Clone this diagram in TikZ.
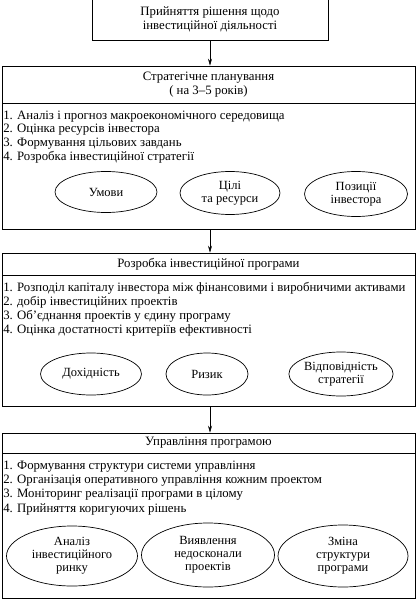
\documentclass[tikz,border=0pt]{standalone}
\usepackage{fontspec}
\setmainfont{Liberation Serif}
\usepackage{tikz}
\usetikzlibrary{arrows.meta,shapes.geometric}

\begin{document}
\begin{tikzpicture}[x=1pt, y=-1pt, line width=0.6pt,
	font=\fontsize{12.8}{13.7}\selectfont,
	panel/.style={draw, rectangle, inner sep=0pt, minimum width=413pt},
	oval/.style={draw, ellipse, inner sep=0pt, align=center, line width=0.7pt,
		font=\fontsize{12.5}{13}\selectfont},
	items/.style={anchor=north west, align=left, inner sep=0pt},
	flow/.style={-{Stealth[length=7pt, width=4pt]}}]
	\useasboundingbox (0,0) rectangle (417,604);

	% Decision on top
	\node [draw, rectangle, align=center, minimum width=236pt, minimum height=41pt] (decision) at (210,19.5) {Прийняття рішення щодо\\інвестиційної діяльності};

	% Strategic planning
	\node [panel, minimum height=37pt, align=center] (planhead) at (208.5,84.5) {Стратегічне планування\\( на 3–5 років)};
	\node [panel, minimum height=126pt] (planbody) at (208.5,166) {};
	\node [items] (planlist) at (3,110.5) {1. Аналіз і прогноз макроекономічного середовища\\2. Оцінка ресурсів інвестора\\3. Формування цільових завдань\\4. Розробка інвестиційної стратегії};
	\node [oval, minimum width=102pt, minimum height=41pt] (conditions) at (106,192) {Умови};
	\node [oval, minimum width=100pt, minimum height=43pt] (goals) at (230,193) {Цілі\\та ресурси};
	\node [oval, minimum width=103pt, minimum height=45pt] (positions) at (356,194) {Позиції\\інвестора};

	% Investment programme
	\node [panel, minimum height=22pt] (proghead) at (208.5,264) {Розробка інвестиційної програми};
	\node [panel, minimum height=131pt] (progbody) at (208.5,340.5) {};
	\node [items] (proglist) at (3,282.5) {1. Розподіл капіталу інвестора між фінансовими і виробничими активами\\2. добір інвестиційних проектів\\3. Об’єднання проектів у єдину програму\\4. Оцінка достатності критеріїв ефективності};
	\node [oval, minimum width=101pt, minimum height=42pt] (income) at (91,374) {Дохідність};
	\node [oval, minimum width=82pt, minimum height=42pt] (risk) at (207,374) {Ризик};
	\node [oval, minimum width=104pt, minimum height=44pt] (fit) at (341,374) {Відповідність\\стратегії};

	% Programme management
	\node [panel, minimum height=20pt] (manhead) at (208.5,443) {Управління програмою};
	\node [panel, minimum height=145pt] (manbody) at (208.5,525.5) {};
	\node [items, font=\fontsize{12.8}{14.3}\selectfont] (manlist) at (3,460.5) {1. Формування структури системи управління\\2. Організація оперативного управління  кожним проектом\\3. Моніторинг реалізації програми в цілому\\4. Прийняття коригуючих рішень};
	\node [oval, minimum width=131pt, minimum height=60pt] (market) at (72,556) {Аналіз\\інвестиційного\\ринку};
	\node [oval, minimum width=133pt, minimum height=64pt] (flaws) at (208,555) {Виявлення\\недосконали\\проектів};
	\node [oval, minimum width=130pt, minimum height=62pt] (change) at (343,556) {Зміна\\структури\\програми};

	% Arrows between stages
	\draw [flow] (decision.south) -- (decision.south |- planhead.north);
	\draw [flow] (decision.south |- planbody.south) -- (decision.south |- proghead.north);
	\draw [flow] (decision.south |- progbody.south) -- (decision.south |- manhead.north);
\end{tikzpicture}
\end{document}
